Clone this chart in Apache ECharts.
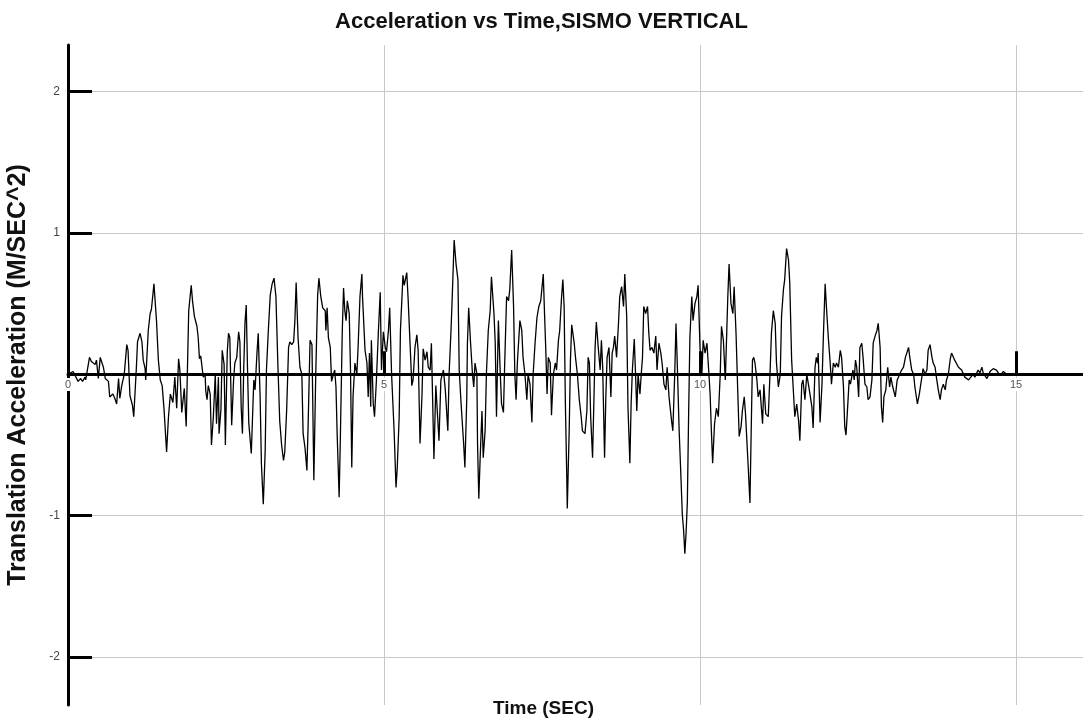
<!DOCTYPE html>
<html>
<head>
<meta charset="utf-8">
<title>Acceleration vs Time, SISMO VERTICAL</title>
<script src="https://cdn.jsdelivr.net/npm/echarts@6/dist/echarts.min.js"></script>
<style>
  html, body { margin: 0; padding: 0; background: #ffffff; }
  #chart { width: 1083px; height: 723px; }
</style>
</head>
<body>
<div id="chart"></div>
<script>
// Vertical ground-motion record: time (s) and translational acceleration (m/s^2)
const times = [
  0.00, 0.08, 0.16, 0.20, 0.23, 0.27, 0.28, 0.34, 0.37, 0.40, 0.43, 0.45, 0.48, 0.51, 0.54, 0.56, 0.59, 0.64, 0.66, 0.71,
  0.74, 0.77, 0.80, 0.82, 0.85, 0.89, 0.93, 0.95, 0.98, 1.02, 1.04, 1.08, 1.10, 1.14, 1.17, 1.19, 1.22, 1.23, 1.27, 1.30,
  1.32, 1.36, 1.40, 1.43, 1.46, 1.49, 1.52, 1.56, 1.59, 1.62, 1.66, 1.69, 1.72, 1.75, 1.77, 1.80, 1.84, 1.87,
  1.91, 1.95, 1.97, 2.00, 2.04, 2.06, 2.08, 2.10, 2.14, 2.17, 2.18, 2.20, 2.22, 2.25, 2.27, 2.30, 2.33, 2.35, 2.38, 2.39,
  2.42, 2.44, 2.47, 2.49, 2.52, 2.54, 2.56, 2.59, 2.62, 2.64, 2.67, 2.70, 2.72, 2.74, 2.76, 2.78, 2.80, 2.82, 2.84, 2.86,
  2.90, 2.92, 2.94, 2.96, 2.99, 3.01, 3.04, 3.06, 3.09, 3.12, 3.14, 3.17, 3.20, 3.23, 3.26, 3.29, 3.32, 3.35, 3.38, 3.41,
  3.43, 3.46, 3.49, 3.51, 3.54, 3.57, 3.59, 3.61, 3.64, 3.67, 3.70, 3.72, 3.75, 3.78, 3.80, 3.83, 3.86, 3.89,
  3.92, 3.95, 3.97, 4.00, 4.03, 4.07, 4.08, 4.10, 4.12, 4.15, 4.17, 4.20, 4.22, 4.24, 4.26, 4.29, 4.31, 4.34, 4.36, 4.38,
  4.40, 4.42, 4.45, 4.47, 4.49, 4.51, 4.54, 4.57, 4.59, 4.62, 4.65, 4.66, 4.70, 4.73, 4.75, 4.77, 4.79, 4.80, 4.83, 4.85,
  4.88, 4.91, 4.94, 4.96, 4.99, 5.02, 5.04, 5.07, 5.09, 5.12, 5.16, 5.19, 5.21, 5.24, 5.26, 5.30, 5.32, 5.36, 5.38, 5.41,
  5.44, 5.46, 5.49, 5.52, 5.54, 5.57, 5.60, 5.62, 5.65, 5.68, 5.70, 5.73, 5.75, 5.79, 5.82, 5.87,
  5.90, 5.94, 5.97, 6.01, 6.03, 6.06, 6.08, 6.11, 6.14, 6.17, 6.19, 6.22, 6.26, 6.28, 6.31, 6.32, 6.34, 6.37, 6.40, 6.42,
  6.44, 6.47, 6.48, 6.50, 6.52, 6.55, 6.57, 6.60, 6.62, 6.65, 6.68, 6.70, 6.74, 6.76, 6.78, 6.81, 6.84, 6.86, 6.89, 6.91,
  6.94, 6.97, 6.99, 7.02, 7.05, 7.07, 7.09, 7.11, 7.15, 7.18, 7.20, 7.23, 7.26, 7.28, 7.31, 7.34, 7.36, 7.39, 7.42, 7.45,
  7.48, 7.52, 7.54, 7.56, 7.58, 7.60, 7.63, 7.65, 7.68, 7.71, 7.73, 7.76, 7.78, 7.81, 7.83,
  7.85, 7.87, 7.89, 7.90, 7.93, 7.95, 7.97, 8.01, 8.03, 8.06, 8.09, 8.12, 8.14, 8.18, 8.21, 8.23, 8.25, 8.27, 8.30, 8.32,
  8.34, 8.36, 8.39, 8.42, 8.44, 8.46, 8.49, 8.51, 8.53, 8.56, 8.59, 8.61, 8.63, 8.65, 8.68, 8.71, 8.73, 8.76, 8.79, 8.81,
  8.84, 8.86, 8.88, 8.89, 8.91, 8.93, 8.96, 8.98, 9.00, 9.02, 9.05, 9.07, 9.09, 9.11, 9.14, 9.17, 9.19, 9.21, 9.24, 9.27,
  9.30, 9.32, 9.35, 9.38, 9.40, 9.43, 9.46, 9.48, 9.51, 9.55, 9.57, 9.60, 9.62, 9.64, 9.67, 9.69, 9.72, 9.74, 9.76, 9.78,
  9.80, 9.82,
  9.84, 9.87, 9.89, 9.92, 9.95, 9.97, 10.00, 10.03, 10.05, 10.08, 10.11, 10.13, 10.16, 10.18, 10.20, 10.23, 10.26, 10.29,
  10.32, 10.34, 10.37, 10.40, 10.41, 10.44, 10.46, 10.49, 10.52, 10.54, 10.57, 10.60, 10.62, 10.65, 10.67, 10.70, 10.72,
  10.76, 10.79, 10.81, 10.83, 10.85, 10.87, 10.90, 10.92, 10.95, 10.99, 11.01, 11.04, 11.08, 11.11, 11.13, 11.16, 11.19,
  11.21, 11.24, 11.27, 11.29, 11.32, 11.34, 11.37, 11.40, 11.42, 11.45, 11.48, 11.50, 11.53, 11.56, 11.58, 11.61, 11.63,
  11.66, 11.69, 11.71, 11.74,
  11.77, 11.79, 11.82, 11.84, 11.86, 11.87, 11.90, 11.93, 11.95, 11.98, 12.00, 12.03, 12.06, 12.08, 12.11, 12.14, 12.16,
  12.19, 12.22, 12.24, 12.27, 12.29, 12.31, 12.33, 12.36, 12.38, 12.42, 12.44, 12.46, 12.48, 12.51, 12.53, 12.56, 12.58,
  12.61, 12.64, 12.66, 12.69, 12.72, 12.74, 12.77, 12.80, 12.82, 12.85, 12.87, 12.89, 12.91, 12.94, 12.97, 13.00, 13.02,
  13.05, 13.09, 13.12, 13.16, 13.19, 13.22, 13.25, 13.30, 13.32, 13.35, 13.38, 13.40, 13.44, 13.47, 13.51, 13.53, 13.56,
  13.59, 13.61, 13.64, 13.67, 13.69, 13.72, 13.74,
  13.77, 13.80, 13.82, 13.85, 13.88, 13.90, 13.93, 13.96, 13.98, 14.03, 14.09, 14.14, 14.19, 14.25, 14.27, 14.32, 14.35,
  14.40, 14.43, 14.46, 14.48, 14.54, 14.59, 14.64, 14.69, 14.75, 14.80, 14.85, 14.95
];
const accel = [
  0.00, 0.02, -0.05, -0.03, -0.05, -0.02, -0.04, 0.12, 0.09, 0.10, 0.07, 0.10, -0.03, 0.12, 0.13, 0.05, -0.03, -0.05, -0.16, -0.14,
  -0.17, -0.21, -0.03, -0.17, -0.08, 0.00, 0.21, 0.17, -0.15, -0.22, -0.30, 0.03, 0.23, 0.29, 0.23, 0.10, 0.04, -0.04, 0.31, 0.43,
  0.46, 0.64, 0.38, 0.10, -0.04, -0.08, -0.25, -0.55, -0.30, -0.14, -0.20, -0.02, -0.24, 0.11, 0.03, -0.27, -0.10, -0.37,
  0.45, 0.63, 0.52, 0.41, 0.34, 0.26, 0.11, 0.13, -0.02, 0.00, -0.12, -0.18, -0.08, -0.14, -0.50, -0.30, 0.00, -0.35, -0.02, -0.42,
  -0.25, 0.17, 0.07, -0.50, 0.16, 0.29, 0.26, -0.36, -0.04, 0.08, 0.12, 0.30, 0.23, -0.23, -0.42, 0.03, 0.36, 0.49, 0.05, -0.34,
  -0.56, -0.30, -0.04, -0.11, 0.15, 0.29, -0.16, -0.63, -0.92, -0.54, 0.03, 0.31, 0.56, 0.64, 0.68, 0.55, 0.08, -0.33, -0.50, -0.61,
  -0.55, -0.25, 0.19, 0.23, 0.21, 0.23, 0.38, 0.65, 0.26, 0.05, 0.00, -0.42, -0.52, -0.68, -0.35, 0.24, 0.21, -0.75,
  0.00, 0.56, 0.68, 0.55, 0.47, 0.45, 0.31, 0.47, 0.26, 0.19, -0.05, 0.00, 0.03, -0.09, -0.44, -0.87, -0.44, 0.31, 0.61, 0.45,
  0.38, 0.52, 0.43, 0.03, -0.66, -0.16, 0.08, 0.00, 0.19, 0.55, 0.71, 0.55, 0.17, 0.08, -0.16, 0.15, -0.23, 0.24, -0.21, -0.30,
  -0.04, 0.29, 0.58, 0.03, 0.30, 0.19, 0.16, 0.31, 0.47, 0.00, -0.40, -0.80, -0.66, -0.30, 0.31, 0.70, 0.63, 0.72, 0.55, 0.24,
  -0.08, -0.04, 0.19, 0.28, 0.17, -0.49, -0.16, 0.18, 0.10, 0.16, 0.05, 0.03, 0.22, -0.60, -0.08, -0.47,
  -0.04, 0.03, -0.11, -0.40, 0.00, 0.31, 0.55, 0.95, 0.78, 0.67, 0.03, -0.21, -0.49, -0.66, -0.16, 0.22, 0.47, 0.22, 0.00, -0.09,
  0.08, 0.00, -0.49, -0.88, -0.61, -0.26, -0.59, -0.40, 0.00, 0.31, 0.45, 0.69, 0.43, 0.22, -0.30, 0.38, 0.00, -0.21, -0.27, 0.08,
  0.55, 0.52, 0.60, 0.88, 0.48, 0.00, -0.18, 0.08, 0.38, 0.31, 0.12, 0.00, -0.18, 0.00, -0.07, -0.34, 0.00, 0.22, 0.40, 0.48,
  0.52, 0.71, 0.43, 0.17, -0.14, 0.12, 0.08, -0.29, 0.00, 0.08, 0.03, 0.24, 0.31, 0.55, 0.67,
  0.48, -0.21, -0.68, -0.95, -0.40, 0.10, 0.35, 0.22, 0.12, 0.00, -0.18, -0.30, -0.40, -0.42, -0.26, 0.12, 0.08, -0.30, -0.59, -0.21,
  0.19, 0.37, 0.19, 0.03, 0.24, 0.05, -0.59, -0.16, 0.12, 0.19, -0.16, 0.15, 0.19, 0.27, 0.12, 0.36, 0.55, 0.62, 0.48, 0.71,
  0.41, -0.23, -0.49, -0.63, -0.21, 0.03, 0.25, 0.00, -0.26, 0.00, -0.14, 0.00, 0.12, 0.48, 0.43, 0.48, 0.29, 0.17, 0.19, 0.15,
  0.27, 0.03, 0.22, 0.15, 0.08, -0.07, -0.11, 0.05, -0.16, -0.33, -0.40, 0.00, 0.36, 0.08, -0.40, -0.63, -0.99, -1.10, -1.27, -1.12,
  -0.90, -0.28,
  0.26, 0.55, 0.38, 0.50, 0.55, 0.63, 0.19, 0.00, 0.24, 0.15, 0.22, 0.08, -0.14, -0.40, -0.63, -0.35, -0.24, -0.30,
  0.00, 0.34, 0.24, -0.04, 0.10, 0.55, 0.78, 0.50, 0.43, 0.62, 0.29, -0.16, -0.44, -0.37, -0.26, -0.16, -0.28,
  -0.63, -0.91, -0.40, 0.10, 0.12, 0.08, -0.04, -0.16, -0.11, -0.35, -0.07, -0.28, -0.30, 0.03, 0.29, 0.45, 0.36,
  0.08, -0.09, 0.00, 0.41, 0.60, 0.67, 0.89, 0.81, 0.65, 0.10, -0.14, -0.30, -0.21, -0.33, -0.47, -0.07, -0.04,
  -0.18, 0.00, 0.01, -0.14,
  -0.23, -0.38, 0.05, 0.12, 0.08, 0.15, -0.34, -0.07, 0.24, 0.64, 0.48, 0.26, 0.08, -0.07, 0.08, 0.05, 0.08,
  0.05, 0.17, 0.12, -0.09, -0.37, -0.43, -0.28, -0.04, -0.07, 0.03, -0.04, 0.10, 0.05, -0.16, 0.19, 0.22, 0.12,
  -0.07, -0.09, -0.18, -0.16, -0.04, 0.22, 0.27, 0.31, 0.36, 0.19, -0.23, -0.34, -0.16, -0.11, 0.05, -0.09, -0.02,
  -0.09, -0.16, -0.04, 0.00, 0.03, 0.05, 0.12, 0.19, 0.12, 0.03, 0.00, -0.09, -0.21, -0.14, -0.02, 0.04, 0.00,
  0.03, 0.17, 0.21, 0.12, 0.08, 0.05, -0.02,
  -0.11, -0.18, -0.11, -0.07, -0.11, -0.04, 0.00, 0.11, 0.15, 0.10, 0.05, 0.03, -0.02, -0.04, -0.05, 0.00, -0.02,
  0.03, 0.01, 0.05, 0.01, -0.03, 0.02, 0.04, 0.03, -0.01, 0.02, 0.00, 0.00
];

// Axis tick positions
const timeTicks = [0, 5, 10, 15];
const accelTicks = [-2, -1, 0, 1, 2];
const accelLabels = [-2, -1, 1, 2];

const timeMin = 0;
const timeMax = 16.06;

const record = times.map((t, i) => [t, accel[i]]);

const FONT = 'Liberation Sans, Arial, sans-serif';

const chart = echarts.init(document.getElementById('chart'), null, { renderer: 'canvas' });

chart.setOption({
  backgroundColor: '#ffffff',
  animation: false,
  title: {
    text: 'Acceleration vs Time,SISMO VERTICAL',
    left: 'center',
    top: 6,
    textStyle: { fontFamily: FONT, fontSize: 22, fontWeight: 'bold', color: '#111111' }
  },
  grid: { left: 68, right: 0, top: 45, bottom: 18, containLabel: false, outerBoundsMode: 'none' },
  xAxis: [
    {
      // main time axis: zero line, inner ticks, vertical grid
      type: 'value',
      position: 'bottom',
      min: timeMin,
      max: timeMax,
      z: 0,
      name: 'Time (SEC)',
      nameLocation: 'middle',
      nameGap: -6,
      nameTextStyle: {
        fontFamily: FONT, fontSize: 19, fontWeight: 'bold', color: '#111111',
        padding: [0, 64, 0, 0]
      },
      axisLine: { onZero: true, lineStyle: { color: '#000000', width: 3 } },
      axisTick: {
        inside: true,
        length: 23,
        customValues: timeTicks,
        lineStyle: { color: '#000000', width: 3 }
      },
      axisLabel: { show: false },
      splitLine: { show: true, lineStyle: { color: '#c8c8c8', width: 1 } }
    },
    {
      // tick labels along the zero line, drawn above the trace
      type: 'value',
      position: 'bottom',
      min: timeMin,
      max: timeMax,
      z: 10,
      axisLine: { show: false, onZero: false },
      axisTick: { show: false },
      splitLine: { show: false },
      axisLabel: {
        customValues: timeTicks,
        margin: -327,
        fontFamily: FONT,
        fontSize: 11,
        color: '#555555',
        backgroundColor: '#ffffff',
        padding: [1, 2, 1, 2]
      }
    }
  ],
  yAxis: {
    type: 'value',
    min: -2.34,
    max: 2.33,
    name: 'Translation Acceleration (M/SEC^2)',
    nameLocation: 'middle',
    nameRotate: 90,
    nameGap: 37,
    nameTextStyle: { fontFamily: FONT, fontSize: 25, fontWeight: 'bold', color: '#111111' },
    axisLine: { onZero: false, lineStyle: { color: '#000000', width: 3 } },
    axisTick: {
      inside: true,
      length: 24,
      customValues: accelTicks,
      lineStyle: { color: '#000000', width: 3 }
    },
    axisLabel: {
      customValues: accelLabels,
      margin: 8,
      fontFamily: FONT,
      fontSize: 12,
      color: '#444444'
    },
    splitLine: { show: true, lineStyle: { color: '#c8c8c8', width: 1 } }
  },
  series: [{
    name: 'Acceleration',
    type: 'line',
    xAxisIndex: 0,
    yAxisIndex: 0,
    data: record,
    showSymbol: false,
    symbol: 'none',
    smooth: false,
    lineStyle: { color: '#000000', width: 1.3 },
    z: 3
  }]
});
</script>
</body>
</html>
